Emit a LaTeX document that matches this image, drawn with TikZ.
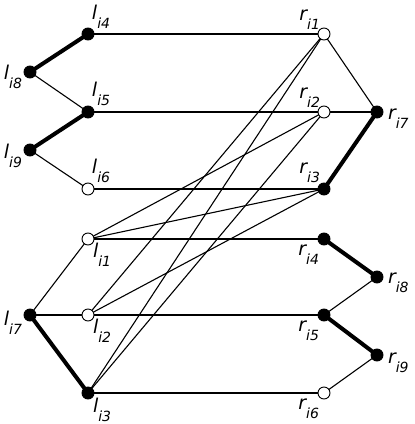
\documentclass[tikz,border=0pt]{standalone}
\usepackage{fontspec}
\setmainfont{DejaVu Sans}
\usetikzlibrary{backgrounds}
\newcommand{\glab}[2]{{\fontsize{19}{19}\selectfont\itshape #1}\raisebox{-9pt}{\fontsize{14}{14}\selectfont\itshape #2}}
\tikzset{
  fdot/.style={circle,draw=black,fill=black,line width=0.9pt,minimum size=12pt,inner sep=0pt},
  odot/.style={circle,draw=black,fill=white,line width=0.9pt,minimum size=12pt,inner sep=0pt},
  thin edge/.style={line width=1.1pt,black},
  thick edge/.style={line width=4pt,black},
  lab/.style={inner sep=0pt,outer sep=0pt}
}
\begin{document}
\begin{tikzpicture}[x=1pt,y=-1pt]
\useasboundingbox (0,0) rectangle (415,424);
% left upper
\node[fdot] (l4) at (88,34) {};
\node[fdot] (l8) at (30,72) {};
\node[fdot] (l5) at (88,112) {};
\node[fdot] (l9) at (30,150) {};
\node[odot] (l6) at (88,189) {};
% right upper
\node[odot] (r1) at (324,34) {};
\node[odot] (r2) at (324,112) {};
\node[fdot] (r7) at (377,112) {};
\node[fdot] (r3) at (324,189) {};
% left lower
\node[odot] (l1) at (88,239) {};
\node[fdot] (l7) at (30,315) {};
\node[odot] (l2) at (88,315) {};
\node[fdot] (l3) at (88,393) {};
% right lower
\node[fdot] (r4) at (324,239) {};
\node[fdot] (r8) at (377,277) {};
\node[fdot] (r5) at (324,315) {};
\node[fdot] (r9) at (377,355) {};
\node[odot] (r6) at (324,393) {};

\begin{scope}[on background layer]
\draw[thick edge] (l4.center) -- (l8.center);
\draw[thin edge] (l8.center) -- (l5.center);
\draw[thick edge] (l5.center) -- (l9.center);
\draw[thin edge] (l9.center) -- (l6.center);
\draw[thin edge] (l4.center) -- (r1.center);
\draw[thin edge] (l5.center) -- (r2.center);
\draw[thin edge] (r2.center) -- (r7.center);
\draw[thin edge] (l6.center) -- (r3.center);
\draw[thin edge] (r1.center) -- (r7.center);
\draw[thick edge] (r7.center) -- (r3.center);
\draw[thin edge] (l1.center) -- (r4.center);
\draw[thin edge] (l2.center) -- (r5.center);
\draw[thin edge] (l3.center) -- (r6.center);
\draw[thin edge] (l7.center) -- (l1.center);
\draw[thin edge] (l7.center) -- (l2.center);
\draw[thick edge] (l7.center) -- (l3.center);
\draw[thick edge] (r4.center) -- (r8.center);
\draw[thin edge] (r8.center) -- (r5.center);
\draw[thick edge] (r5.center) -- (r9.center);
\draw[thin edge] (r9.center) -- (r6.center);
\draw[thin edge] (l1.center) -- (r2.center);
\draw[thin edge] (l1.center) -- (r3.center);
\draw[thin edge] (l2.center) -- (r1.center);
\draw[thin edge] (l2.center) -- (r3.center);
\draw[thin edge] (l3.center) -- (r1.center);
\draw[thin edge] (l3.center) -- (r2.center);
\end{scope}

% labels above right
\node[lab,anchor=south west] (tl4) at ([xshift=4pt,yshift=6pt]l4.center) {\glab{l}{i4}};
\node[lab,anchor=south west] (tl5) at ([xshift=4pt,yshift=6pt]l5.center) {\glab{l}{i5}};
\node[lab,anchor=south west] (tl6) at ([xshift=4pt,yshift=6pt]l6.center) {\glab{l}{i6}};
% labels left
\node[lab,anchor=south east] (tl8) at ([xshift=-8pt,yshift=-17pt]l8.center) {\glab{l}{i8}};
\node[lab,anchor=south east] (tl9) at ([xshift=-8pt,yshift=-18pt]l9.center) {\glab{l}{i9}};
\node[lab,anchor=south east] (tl7) at ([xshift=-8pt,yshift=-19pt]l7.center) {\glab{l}{i7}};
% labels above left
\node[lab,anchor=south east] (tr1) at ([xshift=-4pt,yshift=5pt]r1.center) {\glab{r}{i1}};
\node[lab,anchor=south east] (tr2) at ([xshift=-4pt,yshift=5pt]r2.center) {\glab{r}{i2}};
\node[lab,anchor=south east] (tr3) at ([xshift=-4pt,yshift=6pt]r3.center) {\glab{r}{i3}};
% labels right
\node[lab,anchor=south west] (tr7) at ([xshift=11pt,yshift=-16pt]r7.center) {\glab{r}{i7}};
\node[lab,anchor=south west] (tr8) at ([xshift=11pt,yshift=-16pt]r8.center) {\glab{r}{i8}};
\node[lab,anchor=south west] (tr9) at ([xshift=11pt,yshift=-18pt]r9.center) {\glab{r}{i9}};
% labels below right
\node[lab,anchor=north west] (tl1) at ([xshift=5pt,yshift=-4pt]l1.center) {\glab{l}{i1}};
\node[lab,anchor=north west] (tl2) at ([xshift=5pt,yshift=-4pt]l2.center) {\glab{l}{i2}};
\node[lab,anchor=north west] (tl3) at ([xshift=5pt,yshift=-5pt]l3.center) {\glab{l}{i3}};
% labels below left
\node[lab,anchor=north east] (tr4) at ([xshift=-5pt,yshift=-6pt]r4.center) {\glab{r}{i4}};
\node[lab,anchor=north east] (tr5) at ([xshift=-5pt,yshift=-6pt]r5.center) {\glab{r}{i5}};
\node[lab,anchor=north east] (tr6) at ([xshift=-5pt,yshift=-6pt]r6.center) {\glab{r}{i6}};
\end{tikzpicture}
\end{document}
